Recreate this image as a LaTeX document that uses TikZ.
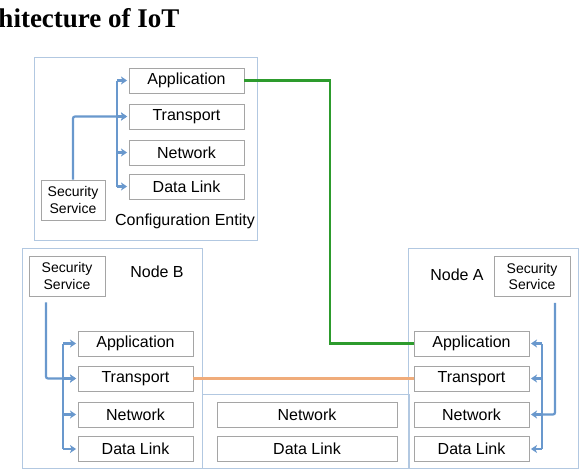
\documentclass[tikz,border=0pt]{standalone}
\usepackage{fontspec}
\setmainfont{Liberation Sans}
\newfontfamily\titlefont{Liberation Serif}
\usetikzlibrary{arrows.meta}
\definecolor{arrowblue}{RGB}{105,152,205}
\definecolor{frameblue}{RGB}{178,200,225}
\definecolor{boxgray}{RGB}{165,165,165}
\definecolor{linkgreen}{RGB}{45,155,45}
\definecolor{linkorange}{RGB}{240,172,122}
\begin{document}
\begin{tikzpicture}[x=1pt,y=-1pt]

\tikzset{framebox/.style={draw=frameblue, line width=1pt, inner sep=0pt}}
\tikzset{layerbox/.style={draw=boxgray, line width=0.9pt, minimum width=115pt, minimum height=25pt, inner sep=0pt, font=\fontsize{16}{18}\selectfont}}
\tikzset{secbox/.style={draw=boxgray, line width=0.9pt, minimum height=40pt, inner sep=0pt, align=center, font=\fontsize{14}{16.5}\selectfont}}
\tikzset{label/.style={font=\fontsize{16}{18}\selectfont}}
\tikzset{bluearr/.style={draw=arrowblue, line width=2.2pt, shorten >=1.5pt, -{Stealth[length=6pt,width=8pt,inset=1.5pt]}}}
\tikzset{blueline/.style={draw=arrowblue, line width=2.2pt, rounded corners=2pt}}

\useasboundingbox (0,0) rectangle (585,469);

\node[anchor=base east, font=\titlefont\bfseries\fontsize{27}{30}\selectfont] (title) at (183,27) {hitecture of IoT};

\node[framebox, minimum width=223pt, minimum height=183pt] (cfg) at (145.5,148.5) {};
\node[framebox, minimum width=180pt, minimum height=220pt] (nodeb) at (112,358) {};
\node[framebox, minimum width=170pt, minimum height=220pt] (nodea) at (493,358) {};
\node[framebox, minimum width=207pt, minimum height=74pt] (mid) at (305.5,431) {};

\node[layerbox] (cfgapp) at (186.5,80.5) {Application};
\node[layerbox] (cfgtr) at (186.5,116.5) {Transport};
\node[layerbox] (cfgnw) at (186.5,152.5) {Network};
\node[layerbox] (cfgdl) at (186.5,186.5) {Data Link};
\node[secbox, minimum width=64pt] (cfgss) at (73,200) {Security\\Service};
\node[label] (cfglbl) at (185,221) {Configuration Entity};

\node[layerbox] (bapp) at (135.5,343.5) {Application};
\node[layerbox] (btr) at (135.5,378.5) {Transport};
\node[layerbox] (bnw) at (135.5,414.5) {Network};
\node[layerbox] (bdl) at (135.5,449) {Data Link};
\node[secbox, minimum width=76pt] (bss) at (67,276) {Security\\Service};
\node[label] (blbl) at (157,272) {Node B};

\node[layerbox] (aapp) at (471.5,343.5) {Application};
\node[layerbox] (atr) at (471.5,378.5) {Transport};
\node[layerbox] (anw) at (471.5,414.5) {Network};
\node[layerbox] (adl) at (471.5,449) {Data Link};
\node[secbox, minimum width=76pt] (ass) at (532,276.5) {Security\\Service};
\node[label] (albl) at (457,275) {Node A};

\node[layerbox, minimum width=180pt] (midnw) at (307,414.5) {Network};
\node[layerbox, minimum width=180pt] (middl) at (307,448.5) {Data Link};

\coordinate (cfgbus) at (117,0);
\coordinate (bbus) at (63,0);
\coordinate (abus) at (542,0);
\coordinate (gturn) at (330,0);

\draw[blueline] (cfgbus |- cfgapp.west) -- (cfgbus |- cfgdl.west);
\foreach \n in {app,tr,nw,dl}
  \draw[bluearr] (cfgbus |- cfg\n.west) -- (cfg\n.west);
\draw[bluearr, rounded corners=2pt] (cfgss.north) |- (cfgtr.west);

\draw[blueline] (bbus |- bapp.west) -- (bbus |- bdl.west);
\foreach \n in {app,tr,nw,dl}
  \draw[bluearr] (bbus |- b\n.west) -- (b\n.west);
\draw[bluearr, rounded corners=2pt] ([xshift=-21pt,yshift=-6pt]bss.south) |- (btr.west);

\draw[blueline] (abus |- aapp.east) -- (abus |- adl.east);
\foreach \n in {app,tr,nw,dl}
  \draw[bluearr] (abus |- a\n.east) -- (a\n.east);
\draw[blueline] ([xshift=23pt,yshift=-6pt]ass.south) |- (abus |- anw.east);

\draw[linkgreen, line width=2.2pt] (cfgapp.east) -- (gturn |- cfgapp.east) |- (aapp.west);
\draw[linkorange, line width=2.2pt] (btr.east) -- (atr.west);

\end{tikzpicture}
\end{document}
